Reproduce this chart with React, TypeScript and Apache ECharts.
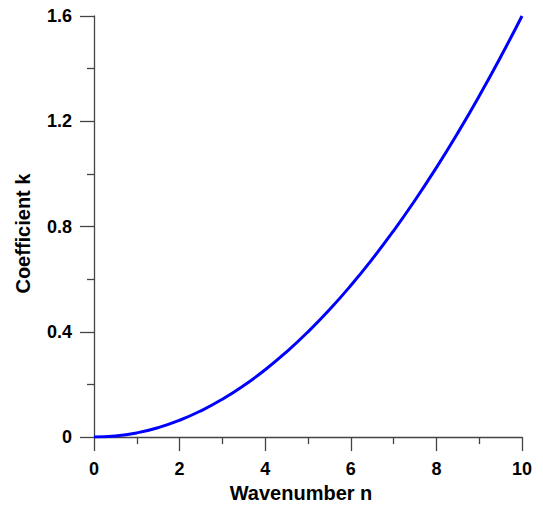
import React, { useEffect, useRef } from "react";
import * as echarts from "echarts";

const wavenumber = [0, 0.5, 1, 1.5, 2, 2.5, 3, 3.5, 4, 4.5, 5, 5.5, 6, 6.5, 7, 7.5, 8, 8.5, 9, 9.5, 10];
const coefficient = [0, 0.004, 0.016, 0.036, 0.064, 0.1, 0.144, 0.196, 0.256, 0.324, 0.4, 0.484, 0.576, 0.676, 0.784, 0.9, 1.024, 1.156, 1.296, 1.444, 1.6];
const xTitle = "Wavenumber n";
const yTitle = "Coefficient k";

export default function App() {
  const ref = useRef<HTMLDivElement>(null);
  useEffect(() => {
    if (!ref.current) return;
    const chart = echarts.init(ref.current, undefined, { renderer: "svg" });
    const font = "'Liberation Sans', Arial, sans-serif";
    const axisCommon = {
      axisLine: { show: true, onZero: false, lineStyle: { color: "#444", width: 1.3 } },
      axisTick: { show: true, inside: false, length: 14, lineStyle: { color: "#444", width: 1.3 } },
      minorTick: { show: true, splitNumber: 2, length: 7, lineStyle: { color: "#444", width: 1.3 } },
      splitLine: { show: false },
      minorSplitLine: { show: false },
      axisLabel: { color: "#000", fontFamily: font, fontWeight: "bold", fontSize: 18 },
    };
    const nameStyle = { color: "#000", fontFamily: font, fontWeight: "bold", fontSize: 20 };
    chart.setOption({
      animation: false,
      grid: { left: 94, right: 21, top: 16, bottom: 67, containLabel: false },
      xAxis: {
        type: "value",
        min: 0,
        max: 10,
        interval: 2,
        name: xTitle,
        nameLocation: "middle",
        nameGap: 44,
        nameTextStyle: { ...nameStyle, padding: [0, 14, 0, 0] },
        ...axisCommon,
        axisLabel: { ...axisCommon.axisLabel, margin: 23 },
      },
      yAxis: {
        type: "value",
        min: 0,
        max: 1.6,
        interval: 0.4,
        name: yTitle,
        nameLocation: "middle",
        nameGap: 61,
        nameTextStyle: { ...nameStyle, padding: [0, 14, 0, 0] },
        ...axisCommon,
        axisLabel: { ...axisCommon.axisLabel, margin: 22, formatter: (v: number) => (v === 0 ? "0" : v.toFixed(1)) },
      },
      series: [
        {
          type: "line",
          data: wavenumber.map((n, i) => [n, coefficient[i]]),
          smooth: true,
          showSymbol: false,
          lineStyle: { color: "#0000ff", width: 3 },
        },
      ],
    });
    return () => chart.dispose();
  }, []);
  return <div ref={ref} style={{ width: 543, height: 508, position: "absolute", left: 0, top: 0 }} />;
}
